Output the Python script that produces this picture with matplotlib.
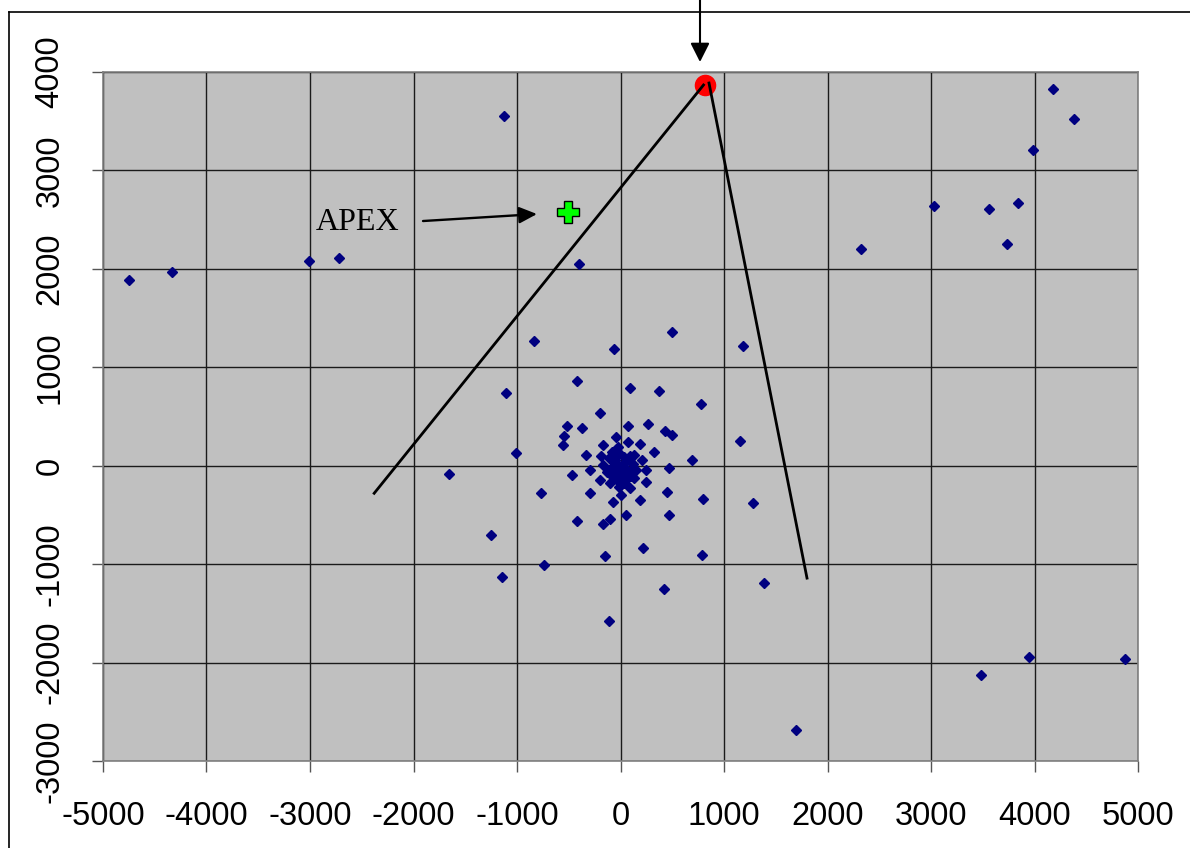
"""
Scatter of offsets around the origin with the apex point and the two
bounding lines drawn in. Values read off the old excel chart by eye.
"""

import matplotlib
matplotlib.use("Agg")
import matplotlib.pyplot as plt
from matplotlib.lines import Line2D

# outer points (scattered far from the centre)
outer_x = [-4750, -4330, -3010, -2720, -1125, -400, 2325, 3025, 3560, 3841,
           3733, 3987, 4179, 4385, -107, 1700, 3482, 3944, 4879]
outer_y = [1890, 1970, 2080, 2110, 3550, 2050, 2206, 2638, 2612, 2669,
           2248, 3212, 3827, 3520, -1580, -2680, -2122, -1940, -1967]

# middle ring, read from the zoomed centre region
mid_x = [-835, -65, 497, 1187, -423, -1103, 94, 374, 774, -197, -516, -371,
         68, 268, 426, 497, -545, -558, -39, -171, -23, 68, 187, 319, 1158,
         -1010, -329, -184, -81, 126, 206, 694, -1661, -465, -290, -168, -132,
         242, 468, 148, -197, -103, -10, 94, 135, 242, -771, -290, 3, -77,
         187, 452, 797, 1281, -423, -171, -103, 55, 468, -1248, 216, -145,
         787, -742, -1142, 416, 1387]
mid_y = [1262, 1190, 1361, 1221, 857, 741, 786, 759, 629, 534, 408, 381,
         408, 422, 354, 310, 299, 211, 296, 211, 194, 241, 224, 143, 255,
         126, 112, 99, 139, 112, 58, 58, -82, -99, -41, 3, -68,
         -41, -27, -44, -146, -180, -214, -224, -129, -170, -279, -279, -293, -364,
         -350, -265, -337, -378, -558, -588, -544, -503, -503, -701, -840, -922,
         -912, -1010, -1133, -1248, -1194]

# the dense blob right at the origin
core_x = [0, 50, -60, 80, -40, 100, 30, -90, 60, -20, 120, -110, 10, 40,
          -30, 70, -70, 90, 20, -50, -10, 30, -80, 110]
core_y = [0, -30, 40, 60, -80, -100, 90, -20, -140, -160, 20, 80, -50, 40,
          10, -70, -110, 100, -110, 60, 130, -180, -60, -40]

apex_x, apex_y = -507, 2577
peak_x, peak_y = 816, 3870

# the two lines running out of the peak
line1_x = [-2380, 802]
line1_y = [-280, 3868]
line2_x = [855, 1802]
line2_y = [3888, -1142]

# APEX label + its arrow
apex_label_pos = (-2942, 2394)
apex_arrow_tail = (-1908, 2486)
apex_arrow_tip = (-807, 2557)

xticks = [-5000, -4000, -3000, -2000, -1000, 0, 1000, 2000, 3000, 4000, 5000]
yticks = [-3000, -2000, -1000, 0, 1000, 2000, 3000, 4000]

plt.rcParams["font.family"] = ["Liberation Sans", "DejaVu Sans"]
plt.rcParams["axes.unicode_minus"] = False

W, H = 1190, 848
fig = plt.figure(figsize=(W / 100, H / 100), dpi=100)
ax = fig.add_axes([103 / W, 1 - 761 / H, (1138 - 103) / W, (761 - 72) / H])
ax.set_facecolor("#C0C0C0")

ax.set_xlim(-5000, 5000)
ax.set_ylim(-3000, 4000)
ax.set_xticks(xticks)
ax.set_yticks(yticks)
ax.grid(True, color="#1a1a1a", lw=1.0)
ax.set_axisbelow(True)
for sp in ax.spines.values():
    sp.set_color("#808080")
    sp.set_linewidth(1.2)
ax.tick_params(direction="out", length=8, width=1, color="#555555",
               labelsize=23.5, pad=21)
ax.tick_params(axis="y", labelrotation=90, pad=19)
for lab in ax.get_yticklabels():
    lab.set_va("center")

diamond = dict(ls="none", marker="D", ms=5.4, color="#000080", mec="#000080")
ax.plot(outer_x, outer_y, **diamond)
ax.plot(mid_x, mid_y, **diamond)
ax.plot(core_x, core_y, **diamond)

ax.plot([peak_x], [peak_y], ls="none", marker="o", ms=14.5,
        color="#FF0000", mec="#FF0000", zorder=4)
ax.plot([apex_x], [apex_y], ls="none", marker="P", ms=16,
        color="#00FF00", mec="black", mew=1.0, zorder=4)

ax.plot(line1_x, line1_y, color="black", lw=2.0, zorder=5)
ax.plot(line2_x, line2_y, color="black", lw=2.0, zorder=5)

ax.text(*apex_label_pos, "APEX", family=["Liberation Serif", "DejaVu Serif"],
        fontsize=23, ha="left", va="baseline")
ax.annotate("", xy=apex_arrow_tip, xytext=apex_arrow_tail,
            arrowprops=dict(arrowstyle="-|>,head_length=1.08,head_width=0.5",
                            mutation_scale=10, color="black", lw=1.7,
                            shrinkA=0, shrinkB=0))

# arrow coming down from the top edge onto the peak
ax.annotate("", xy=(700 / W, 1 - 62 / H), xycoords="figure fraction",
            xytext=(700 / W, 1.0), textcoords="figure fraction",
            arrowprops=dict(arrowstyle="-|>,head_length=1.15,head_width=0.58",
                            mutation_scale=10, color="black", lw=1.5,
                            shrinkA=0, shrinkB=0),
            annotation_clip=False)

# chart-area frame, only the left and top edges fall inside the image
fig.add_artist(Line2D([8.5 / W, 8.5 / W], [0, 1 - 12 / H], color="black",
                      lw=1.2, transform=fig.transFigure))
fig.add_artist(Line2D([8.5 / W, 1], [1 - 12 / H, 1 - 12 / H], color="black",
                      lw=1.2, transform=fig.transFigure))

fig.savefig("out.png", dpi=100)
